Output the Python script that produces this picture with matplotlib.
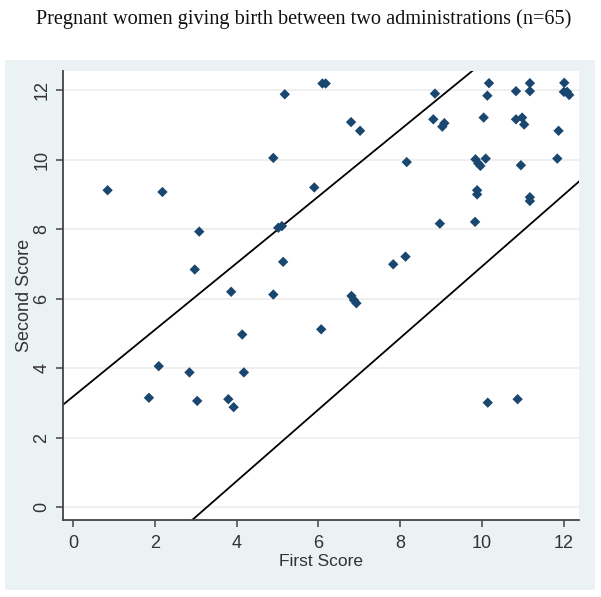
import matplotlib
matplotlib.use("Agg")
import matplotlib.pyplot as plt
from matplotlib.patches import Rectangle

# ---- data ----
first_score = [0.85, 2.19, 3.09, 2.98, 3.87, 6.10, 6.18, 5.18, 6.80, 7.02,
               4.90, 8.16, 5.90, 5.02, 5.11, 5.14, 7.83, 8.13, 4.90, 6.81,
               6.87, 6.93, 8.85, 8.81, 9.03, 9.08, 10.17, 10.13, 10.04, 10.83,
               11.17, 11.17, 10.83, 10.98, 11.03, 12.01, 12.00, 12.08, 12.13, 11.87,
               9.84, 9.91, 9.96, 10.09, 10.95, 11.84, 9.88, 9.88, 11.17, 11.17,
               8.97, 9.83, 2.10, 2.85, 1.86, 3.04, 3.80, 3.93, 4.14, 6.07,
               4.18, 10.14, 10.87]
second_score = [9.12, 9.07, 7.93, 6.84, 6.20, 12.19, 12.19, 11.88, 11.08, 10.83,
                10.05, 9.93, 9.20, 8.04, 8.09, 7.06, 6.99, 7.21, 6.12, 6.08,
                5.96, 5.87, 11.90, 11.16, 10.95, 11.05, 12.20, 11.84, 11.21, 11.97,
                12.20, 11.97, 11.16, 11.21, 11.01, 12.21, 11.95, 11.95, 11.86, 10.83,
                10.01, 9.89, 9.82, 10.03, 9.84, 10.03, 9.12, 9.00, 8.92, 8.81,
                8.16, 8.21, 4.06, 3.88, 3.15, 3.06, 3.11, 2.88, 4.97, 5.12,
                3.88, 3.01, 3.11]

# limit lines: (intercept, slope)
upper_line = (3.18, 0.96)
lower_line = (-3.37, 1.03)

x_ticks = [0, 2, 4, 6, 8, 10, 12]
y_ticks = [0, 2, 4, 6, 8, 10, 12]

title = "Pregnant women giving birth between two administrations (n=65)"
x_label = "First Score"
y_label = "Second Score"

# ---- figure ----
W, H = 601, 597
fig = plt.figure(figsize=(W / 100, H / 100), dpi=100)
fig.patch.set_facecolor("white")

# graph region (Stata-like light bluish background)
bg = Rectangle((5 / W, 1 - 590 / H), 590 / W, 530 / H,
               transform=fig.transFigure, facecolor="#eaf2f3",
               edgecolor="none", zorder=-10)
fig.add_artist(bg)

fig.text(0.505, 1 - 19 / H, title, ha="center", va="center",
         family="Liberation Serif", fontsize=14.6, color="#111111")

ax = fig.add_axes([63 / W, 1 - 520 / H, 516 / W, 449 / H])
ax.set_zorder(5)
ax.set_facecolor("white")
ax.set_xlim(-0.24, 12.37)
ax.set_ylim(-0.365, 12.55)

for yt in y_ticks:
    ax.axhline(yt, color="#ececec", lw=1.2, zorder=1)

for b, m in (upper_line, lower_line):
    ax.axline((0, b), slope=m, color="black", lw=1.3, zorder=2)

ax.scatter(first_score, second_score, marker="D", s=28, color="#1a476f",
           edgecolors="none", zorder=3)

ax.set_xticks(x_ticks)
ax.set_yticks(y_ticks)
for lab in ax.get_xticklabels() + ax.get_yticklabels():
    lab.set_family("Liberation Sans")
ax.tick_params(axis="both", direction="out", length=5, width=1.1,
               color="#444444", labelsize=13, labelcolor="#333333")
ax.tick_params(axis="x", pad=6)
ax.tick_params(axis="y", pad=4)
plt.setp(ax.get_yticklabels(), rotation=90, va="center")

for side in ("top", "right"):
    ax.spines[side].set_visible(False)
for side in ("left", "bottom"):
    ax.spines[side].set_color("#444444")
    ax.spines[side].set_linewidth(1.3)

ax.set_xlabel(x_label, family="Liberation Sans", fontsize=12.5,
              color="#333333", labelpad=1)
ax.set_ylabel(y_label, family="Liberation Sans", fontsize=13,
              color="#333333", labelpad=0)

fig.savefig("out.png", dpi=100)
